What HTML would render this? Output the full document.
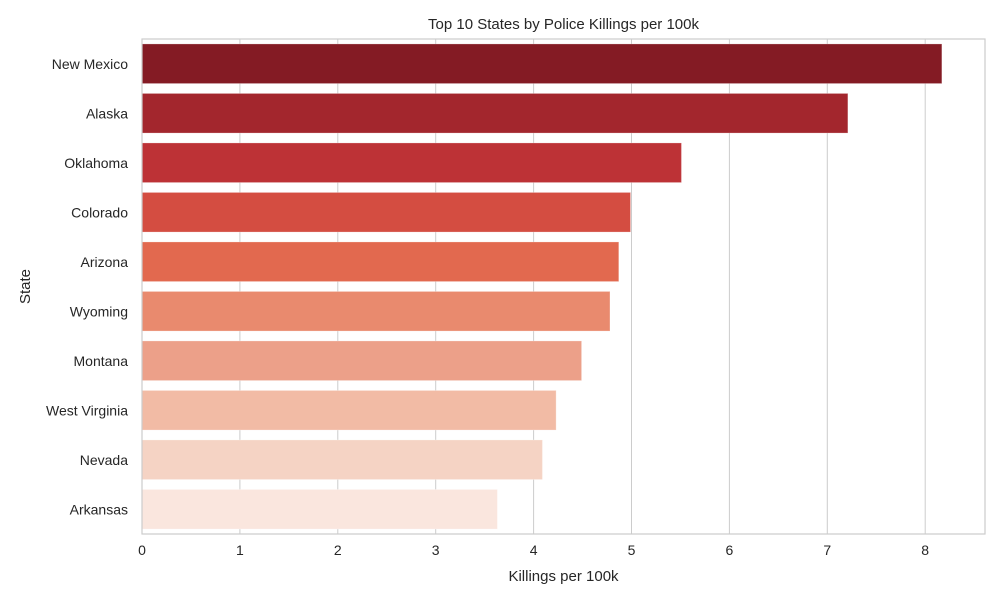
<!DOCTYPE html>
<html><head><meta charset="utf-8"><style>
body{margin:0;background:#fff;font-family:"Liberation Sans",sans-serif;}
text{font-family:"Liberation Sans",sans-serif;fill:#262626;}
</style></head><body>
<svg id="chart" width="1000" height="600"></svg>
<script>
const states=["New Mexico","Alaska","Oklahoma","Colorado","Arizona","Wyoming","Montana","West Virginia","Nevada","Arkansas"];
const values=[8.17,7.21,5.51,4.99,4.87,4.78,4.49,4.23,4.09,3.63];
const xTicks=[0,1,2,3,4,5,6,7,8];
const colors=["#841b24","#a3262d","#bd3236","#d44d41","#e2694f","#e98a6e","#eca089","#f2bba5","#f5d3c4","#fae6de"];
const L=142,R=985,T=39,B=534,ppu=97.9;
const svg=document.getElementById('chart');
const NS='http://www.w3.org/2000/svg';
function x(v){return L+v*ppu;}
const band=(B-T)/states.length;
function y(i){return T+i*band;}
function mk(tag,attrs,txt){const e=document.createElementNS(NS,tag);for(const k in attrs)e.setAttribute(k,attrs[k]);if(txt!==undefined)e.textContent=txt;svg.appendChild(e);return e;}
xTicks.forEach(t=>{
 const g=mk('line',{x1:x(t),x2:x(t),y1:T,y2:B,stroke:'#cccccc','stroke-width':1});
 
 
 const lb=mk('text',{x:x(t),y:B+21,'text-anchor':'middle','font-size':14},String(t));
 
 
});
states.forEach((s,i)=>{
 const r=mk('rect',{x:L,y:y(i)+band*0.1,width:x(values[i])-L,height:band*0.8,fill:colors[i],stroke:'rgba(255,255,255,0.25)','stroke-width':1});
 
 
 const lb=mk('text',{x:L-14,y:y(i)+band/2+5,'text-anchor':'end','font-size':14},s);
 
 
});
const fr=mk('rect',{x:L,y:T,width:R-L,height:B-T,fill:'none',stroke:'#cccccc','stroke-width':1.2});


const tt=mk('text',{x:(L+R)/2,y:T-10,'text-anchor':'middle','font-size':15},'Top 10 States by Police Killings per 100k');


const xt=mk('text',{x:(L+R)/2,y:B+47,'text-anchor':'middle','font-size':15},'Killings per 100k');


const yt=mk('text',{x:30,y:(T+B)/2,'text-anchor':'middle','font-size':15,transform:'rotate(-90 30 '+((T+B)/2)+')'},'State');


</script>
</body></html>
